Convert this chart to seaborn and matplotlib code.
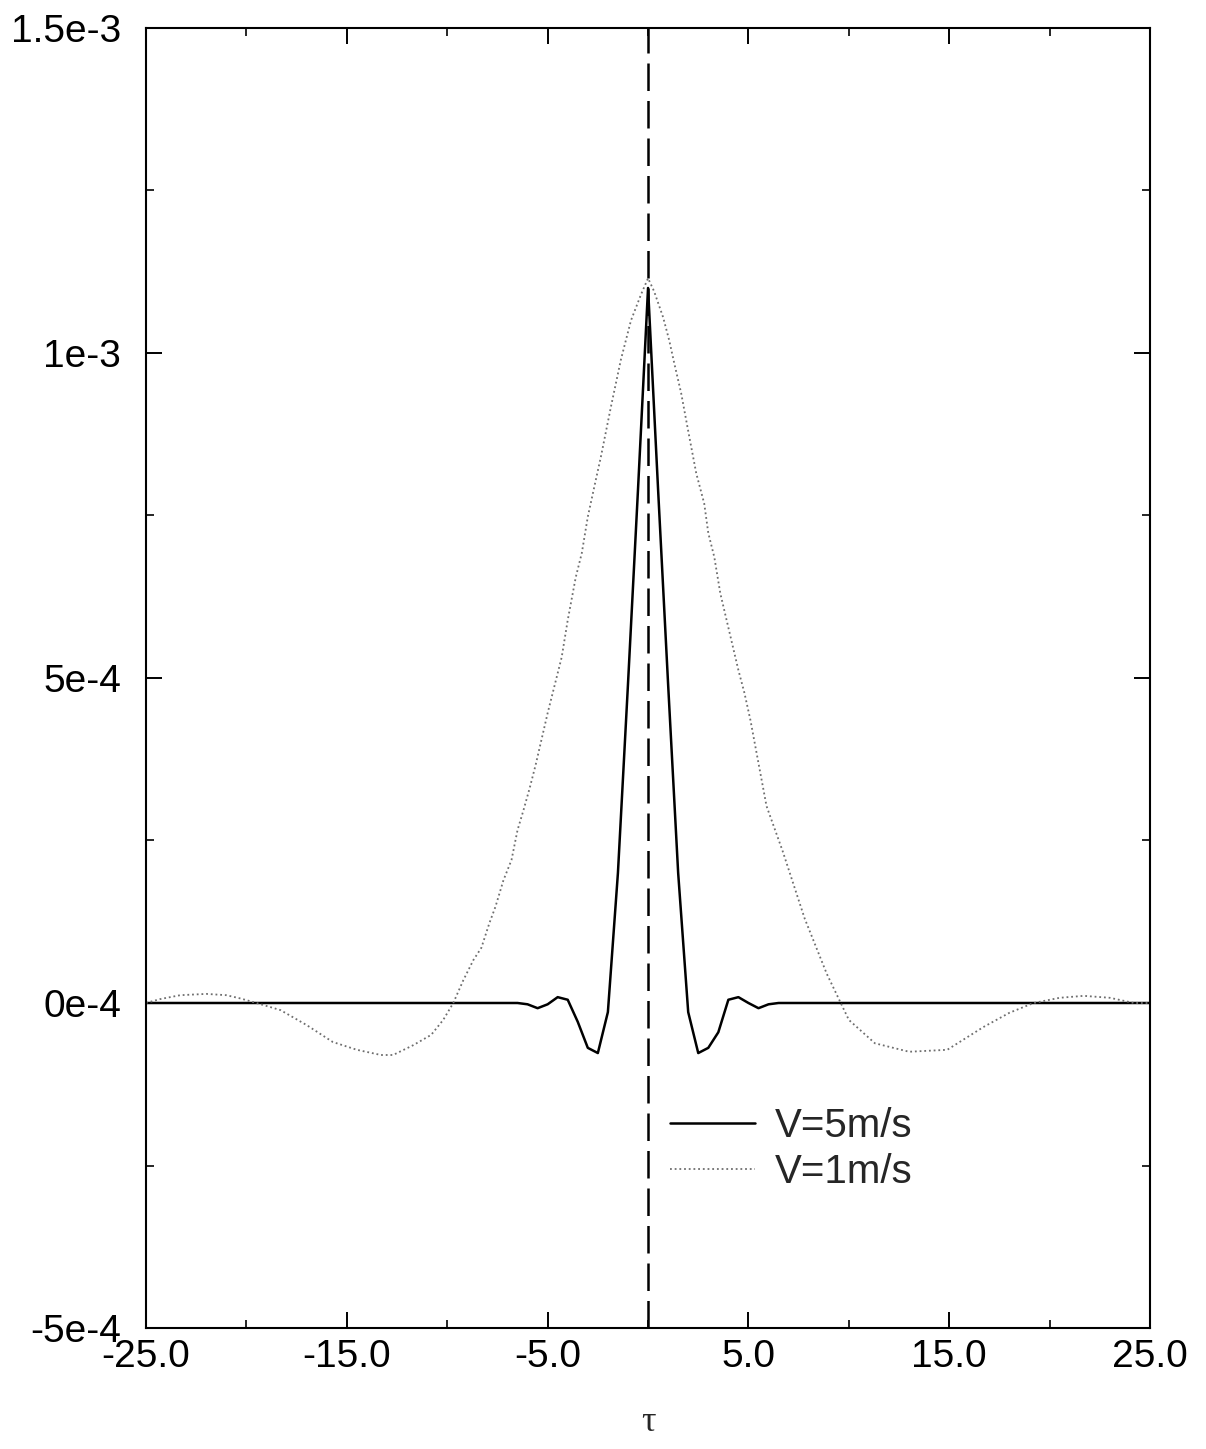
import numpy as np
import pandas as pd
import matplotlib
matplotlib.use("Agg")
import matplotlib.pyplot as plt
import seaborn as sns

# ---- data (values in units of 1e-3) ----
tau_v5 = [-25.0, -7.0, -6.5, -6.0, -5.5, -5.0, -4.5, -4.0, -3.5, -3.0, -2.5, -2.0,
          -1.5, -1.0, -0.5, 0.0, 0.5, 1.0, 1.5, 2.0, 2.5, 3.0, 3.5, 4.0, 4.5,
          5.0, 5.5, 6.0, 6.5, 7.0, 25.0]
val_v5 = [0.0, 0.0, 0.0, -0.002, -0.008, -0.002, 0.009, 0.005, -0.029, -0.069, -0.077, -0.014,
          0.20, 0.49, 0.79, 1.10, 0.79, 0.49, 0.20, -0.014, -0.077, -0.069, -0.045, 0.005, 0.009,
          0.0, -0.008, -0.002, 0.0, 0.0, 0.0]

tau_v1 = [-25.0, -24.3, -23.3, -22.0, -21.0, -20.3, -19.5, -18.3, -17.0, -15.7, -14.5,
          -13.3, -12.7, -11.7, -10.8, -10.2, -9.7, -9.2, -8.7, -8.3, -7.9, -7.6, -7.2,
          -6.8, -6.5, -6.2, -5.9, -5.6, -5.0, -4.3, -4.0, -3.6, -3.3, -3.0, -2.6, -2.35,
          -1.85, -1.35, -0.85, -0.35, 0.0, 0.3, 0.75, 1.05, 1.3, 1.65, 2.0, 2.4, 2.8,
          3.0, 3.3, 3.6, 4.5, 4.8, 5.1, 5.5, 5.9, 6.7, 7.8, 8.9, 10.0, 11.3, 13.0, 14.9,
          16.7, 18.0, 19.2, 20.5, 21.7, 23.0, 24.2, 25.0]
val_v1 = [0.0, 0.006, 0.012, 0.014, 0.012, 0.007, 0.0, -0.011, -0.034, -0.060, -0.072,
          -0.080, -0.080, -0.065, -0.049, -0.026, 0.0, 0.035, 0.066, 0.085, 0.123, 0.148, 0.189,
          0.22, 0.266, 0.297, 0.33, 0.366, 0.446, 0.532, 0.589, 0.655, 0.692, 0.748, 0.805, 0.84,
          0.917, 0.99, 1.05, 1.09, 1.115, 1.095, 1.055, 1.02, 0.985, 0.938, 0.88, 0.815, 0.768,
          0.723, 0.686, 0.63, 0.512, 0.477, 0.435, 0.369, 0.303, 0.234, 0.13, 0.045, -0.026, -0.062, -0.075, -0.072,
          -0.037, -0.015, 0.0, 0.008, 0.011, 0.008, 0.0, 0.0]

x_ticks = [-25.0, -15.0, -5.0, 5.0, 15.0, 25.0]
x_ticklabels = ["-25.0", "-15.0", "-5.0", "5.0", "15.0", "25.0"]
y_ticks = [1.5e-3, 1e-3, 5e-4, 0.0, -5e-4]
y_ticklabels = ["1.5e-3", "1e-3", "5e-4", "0e-4", "-5e-4"]
labels = ["V=5m/s", "V=1m/s"]

df5 = pd.DataFrame({"tau": tau_v5, "val": np.array(val_v5) * 1e-3})
df1 = pd.DataFrame({"tau": tau_v1, "val": np.array(val_v1) * 1e-3})

sns.set_style("ticks")
plt.rcParams["font.family"] = ["Liberation Sans", "DejaVu Sans"]

fig = plt.figure(figsize=(12.06, 14.49), dpi=100)
ax = fig.add_axes([0.1211, 0.0835, 0.8325, 0.8972])

sns.lineplot(data=df5, x="tau", y="val", ax=ax, color="black", lw=1.8,
             label=labels[0], estimator=None, sort=False)
sns.lineplot(data=df1, x="tau", y="val", ax=ax, color="#6e6e6e", lw=1.3,
             linestyle=(0, (1, 1.6)), label=labels[1], estimator=None, sort=False)

ax.axvline(0.0, color="black", lw=1.8, dashes=(11, 4))

ax.set_xlim(-25, 25)
ax.set_ylim(-5e-4, 1.5e-3)
ax.set_xticks(x_ticks)
ax.set_xticklabels(x_ticklabels)
ax.set_xticks([-20, -10, 0, 10, 20], minor=True)
ax.set_yticks(y_ticks)
ax.set_yticklabels(y_ticklabels)
ax.set_yticks([1.25e-3, 0.75e-3, 0.25e-3, -0.25e-3], minor=True)

ax.tick_params(axis="both", which="major", direction="in", length=11.5, width=1.4,
               top=True, right=True, labelsize=28, colors="black")
ax.tick_params(axis="both", which="minor", direction="in", length=5.8, width=1.4,
               top=True, right=True)
ax.tick_params(axis="y", which="major", pad=18)
ax.tick_params(axis="x", which="major", pad=8)
for s in ax.spines.values():
    s.set_visible(True)
    s.set_linewidth(1.5)
    s.set_color("black")

ax.set_xlabel("τ", fontsize=26, family=["Liberation Serif", "DejaVu Serif"], labelpad=22)
ax.set_ylabel("")

leg = ax.legend(loc="center left", bbox_to_anchor=(0.522, 0.1377), frameon=False,
                fontsize=29, handlelength=2.1, handletextpad=0.5, labelspacing=0.2,
                borderpad=0, borderaxespad=0)

fig.savefig("out.png", dpi=100)
